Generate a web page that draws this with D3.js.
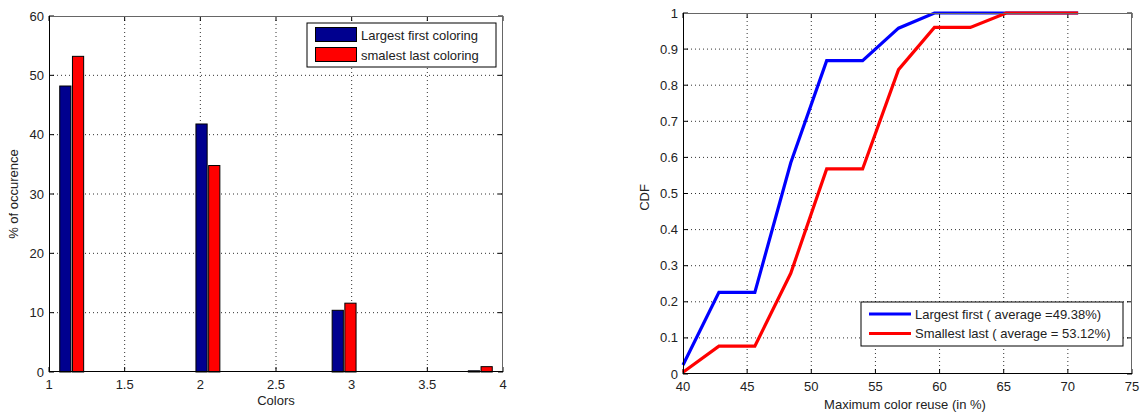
<!DOCTYPE html>
<meta charset="utf-8">
<style>
body { margin: 0; background: #fff; }
text { font-family: "Liberation Sans", Arial, sans-serif; font-size: 13px; fill: #222; }
.grid line { stroke: #000; stroke-dasharray: 1,3; stroke-width: 1; opacity: 0.8; }
</style>
<body>
<script src="https://cdn.jsdelivr.net/npm/d3@7"></script>
<script>

// left chart data: colour count histogram
var binCenters = [1.15, 2.05, 2.95, 3.85];
var largestFirstPct = [48.2, 41.8, 10.4, 0.2];
var smallestLastPct = [53.2, 34.8, 11.6, 0.9];
var barNames = ["Largest first coloring", "smalest last coloring"];
var barColors = ["#00008f", "#ff0000"];

// right chart data: CDF of maximum color reuse
var reuseX = [40, 42.8, 45.6, 48.4, 51.2, 54.0, 56.8, 59.6, 62.4, 65.2, 68.0, 70.8];
var cdfLargest = [0.025, 0.226, 0.226, 0.585, 0.868, 0.868, 0.958, 1, 1, 1, 1, 1];
var cdfSmallest = [0.005, 0.077, 0.077, 0.279, 0.568, 0.568, 0.843, 0.96, 0.96, 1, 1, 1];
var lineNames = ["Largest first ( average =49.38%)", "Smallest last ( average = 53.12%)"];
var lineColors = ["#0000ff", "#ff0000"];

var svg = d3.select("body").append("svg")
    .attr("width", 1146)
    .attr("height", 412);

// draws matlab style grid and inward ticks
function axesBox(g, x, y, xTicks, yTicks, w, h) {
  var grid = g.append("g").attr("class", "grid");
  grid.selectAll(".gx").data(xTicks.slice(1, -1)).enter().append("line")
      .attr("x1", x).attr("x2", x).attr("y1", 0).attr("y2", h);
  grid.selectAll(".gy").data(yTicks.slice(1, -1)).enter().append("line")
      .attr("y1", y).attr("y2", y).attr("x1", 0).attr("x2", w);

  var tl = 5;
  var ticks = g.append("g").attr("stroke", "#000");
  xTicks.forEach(function(t) {
    ticks.append("line").attr("x1", x(t)).attr("x2", x(t)).attr("y1", h).attr("y2", h - tl);
    ticks.append("line").attr("x1", x(t)).attr("x2", x(t)).attr("y1", 0).attr("y2", tl);
  });
  yTicks.forEach(function(t) {
    ticks.append("line").attr("y1", y(t)).attr("y2", y(t)).attr("x1", 0).attr("x2", tl);
    ticks.append("line").attr("y1", y(t)).attr("y2", y(t)).attr("x1", w).attr("x2", w - tl);
  });
}

function axesFrame(g, w, h) {
  g.append("line").attr("x1", 0).attr("x2", w).attr("y1", 0.5).attr("y2", 0.5).attr("stroke", "#666");
  g.append("line").attr("x1", w - 0.5).attr("x2", w - 0.5).attr("y1", 0).attr("y2", h).attr("stroke", "#666");
  g.append("line").attr("x1", 0.5).attr("x2", 0.5).attr("y1", 0).attr("y2", h).attr("stroke", "#000");
  g.append("line").attr("x1", 0).attr("x2", w).attr("y1", h - 0.5).attr("y2", h - 0.5).attr("stroke", "#000");
}

function tickLabels(g, x, y, xTicks, yTicks, h, fmtX, fmtY) {
  g.selectAll(".xl").data(xTicks).enter().append("text")
      .attr("x", function(d) { return x(d); })
      .attr("y", h + 17)
      .attr("text-anchor", "middle")
      .text(fmtX);
  g.selectAll(".yl").data(yTicks).enter().append("text")
      .attr("x", -5)
      .attr("y", function(d) { return y(d) + 4.5; })
      .attr("text-anchor", "end")
      .text(fmtY);
}

// ---------- left chart ----------
var L = {left: 49, top: 16, width: 454, height: 356};
var gl = svg.append("g").attr("transform", "translate(" + L.left + "," + L.top + ")");
var xL = d3.scaleLinear().domain([1, 4]).range([0, L.width]);
var yL = d3.scaleLinear().domain([0, 60]).range([L.height, 0]);
var xTicksL = d3.range(1, 4.01, 0.5);
var yTicksL = d3.range(0, 61, 10);

axesBox(gl, xL, yL, xTicksL, yTicksL, L.width, L.height);

var barW = 0.074, gap = 0.01;
var barSeries = [largestFirstPct, smallestLastPct];
barSeries.forEach(function(vals, si) {
  gl.selectAll(".bar" + si).data(vals).enter().append("rect")
      .attr("x", function(d, i) {
        var c = binCenters[i] + (si === 0 ? -(barW + gap) / 2 : (barW + gap) / 2);
        return xL(c - barW / 2);
      })
      .attr("width", xL(barW) - xL(0))
      .attr("y", function(d) { return yL(d); })
      .attr("height", function(d) { return yL(0) - yL(d); })
      .attr("fill", barColors[si])
      .attr("stroke", "#000")
      .attr("stroke-width", 1);
});

axesFrame(gl, L.width, L.height);
tickLabels(gl, xL, yL, xTicksL, yTicksL, L.height, d3.format(""), d3.format(""));

gl.append("text").attr("x", L.width / 2).attr("y", L.height + 33)
    .attr("text-anchor", "middle").text("Colors");
gl.append("text").attr("transform", "translate(-31," + (L.height / 2) + ") rotate(-90)")
    .attr("text-anchor", "middle").text("% of occurence");

// legend
var lgL = gl.append("g").attr("transform", "translate(258,7)");
lgL.append("rect").attr("width", 189).attr("height", 44)
    .attr("fill", "#fff").attr("stroke", "#000");
barNames.forEach(function(n, i) {
  lgL.append("rect").attr("x", 8.5).attr("y", 4.5 + i * 20).attr("width", 41).attr("height", 14)
      .attr("fill", barColors[i]).attr("stroke", "#000");
  lgL.append("text").attr("x", 54).attr("y", 16.5 + i * 20).text(n);
});

// ---------- right chart ----------
var R = {left: 683, top: 13, width: 449, height: 361};
var gr = svg.append("g").attr("transform", "translate(" + R.left + "," + R.top + ")");
var xR = d3.scaleLinear().domain([40, 75]).range([0, R.width]);
var yR = d3.scaleLinear().domain([0, 1]).range([R.height, 0]);
var xTicksR = d3.range(40, 76, 5);
var yTicksR = d3.range(0, 11).map(function(i) { return i / 10; });

axesBox(gr, xR, yR, xTicksR, yTicksR, R.width, R.height);

var line = d3.line()
    .x(function(d) { return xR(d[0]); })
    .y(function(d) { return yR(d[1]); });

[cdfLargest, cdfSmallest].forEach(function(vals, si) {
  gr.append("path")
      .datum(reuseX.map(function(x, i) { return [x, vals[i]]; }))
      .attr("d", line)
      .attr("fill", "none")
      .attr("stroke", lineColors[si])
      .attr("stroke-width", 3.2);
});

axesFrame(gr, R.width, R.height);
tickLabels(gr, xR, yR, xTicksR, yTicksR, R.height, d3.format(""), function(d) { return d === 0 || d === 1 ? d : d3.format(".1f")(d); });

gr.append("text").attr("x", 222).attr("y", R.height + 35)
    .attr("text-anchor", "middle").text("Maximum color reuse (in %)");
gr.append("text").attr("transform", "translate(-34," + (R.height / 2 + 4) + ") rotate(-90)")
    .attr("text-anchor", "middle").text("CDF");

var lgR = gr.append("g").attr("transform", "translate(178,289)");
lgR.append("rect").attr("width", 262).attr("height", 44)
    .attr("fill", "#fff").attr("stroke", "#000");
lineNames.forEach(function(n, i) {
  lgR.append("line").attr("x1", 8).attr("x2", 50).attr("y1", 12 + i * 19.5).attr("y2", 12 + i * 19.5)
      .attr("stroke", lineColors[i]).attr("stroke-width", 3.2);
  lgR.append("text").attr("x", 54).attr("y", 16.5 + i * 19.5).text(n);
});

</script>
</body>
